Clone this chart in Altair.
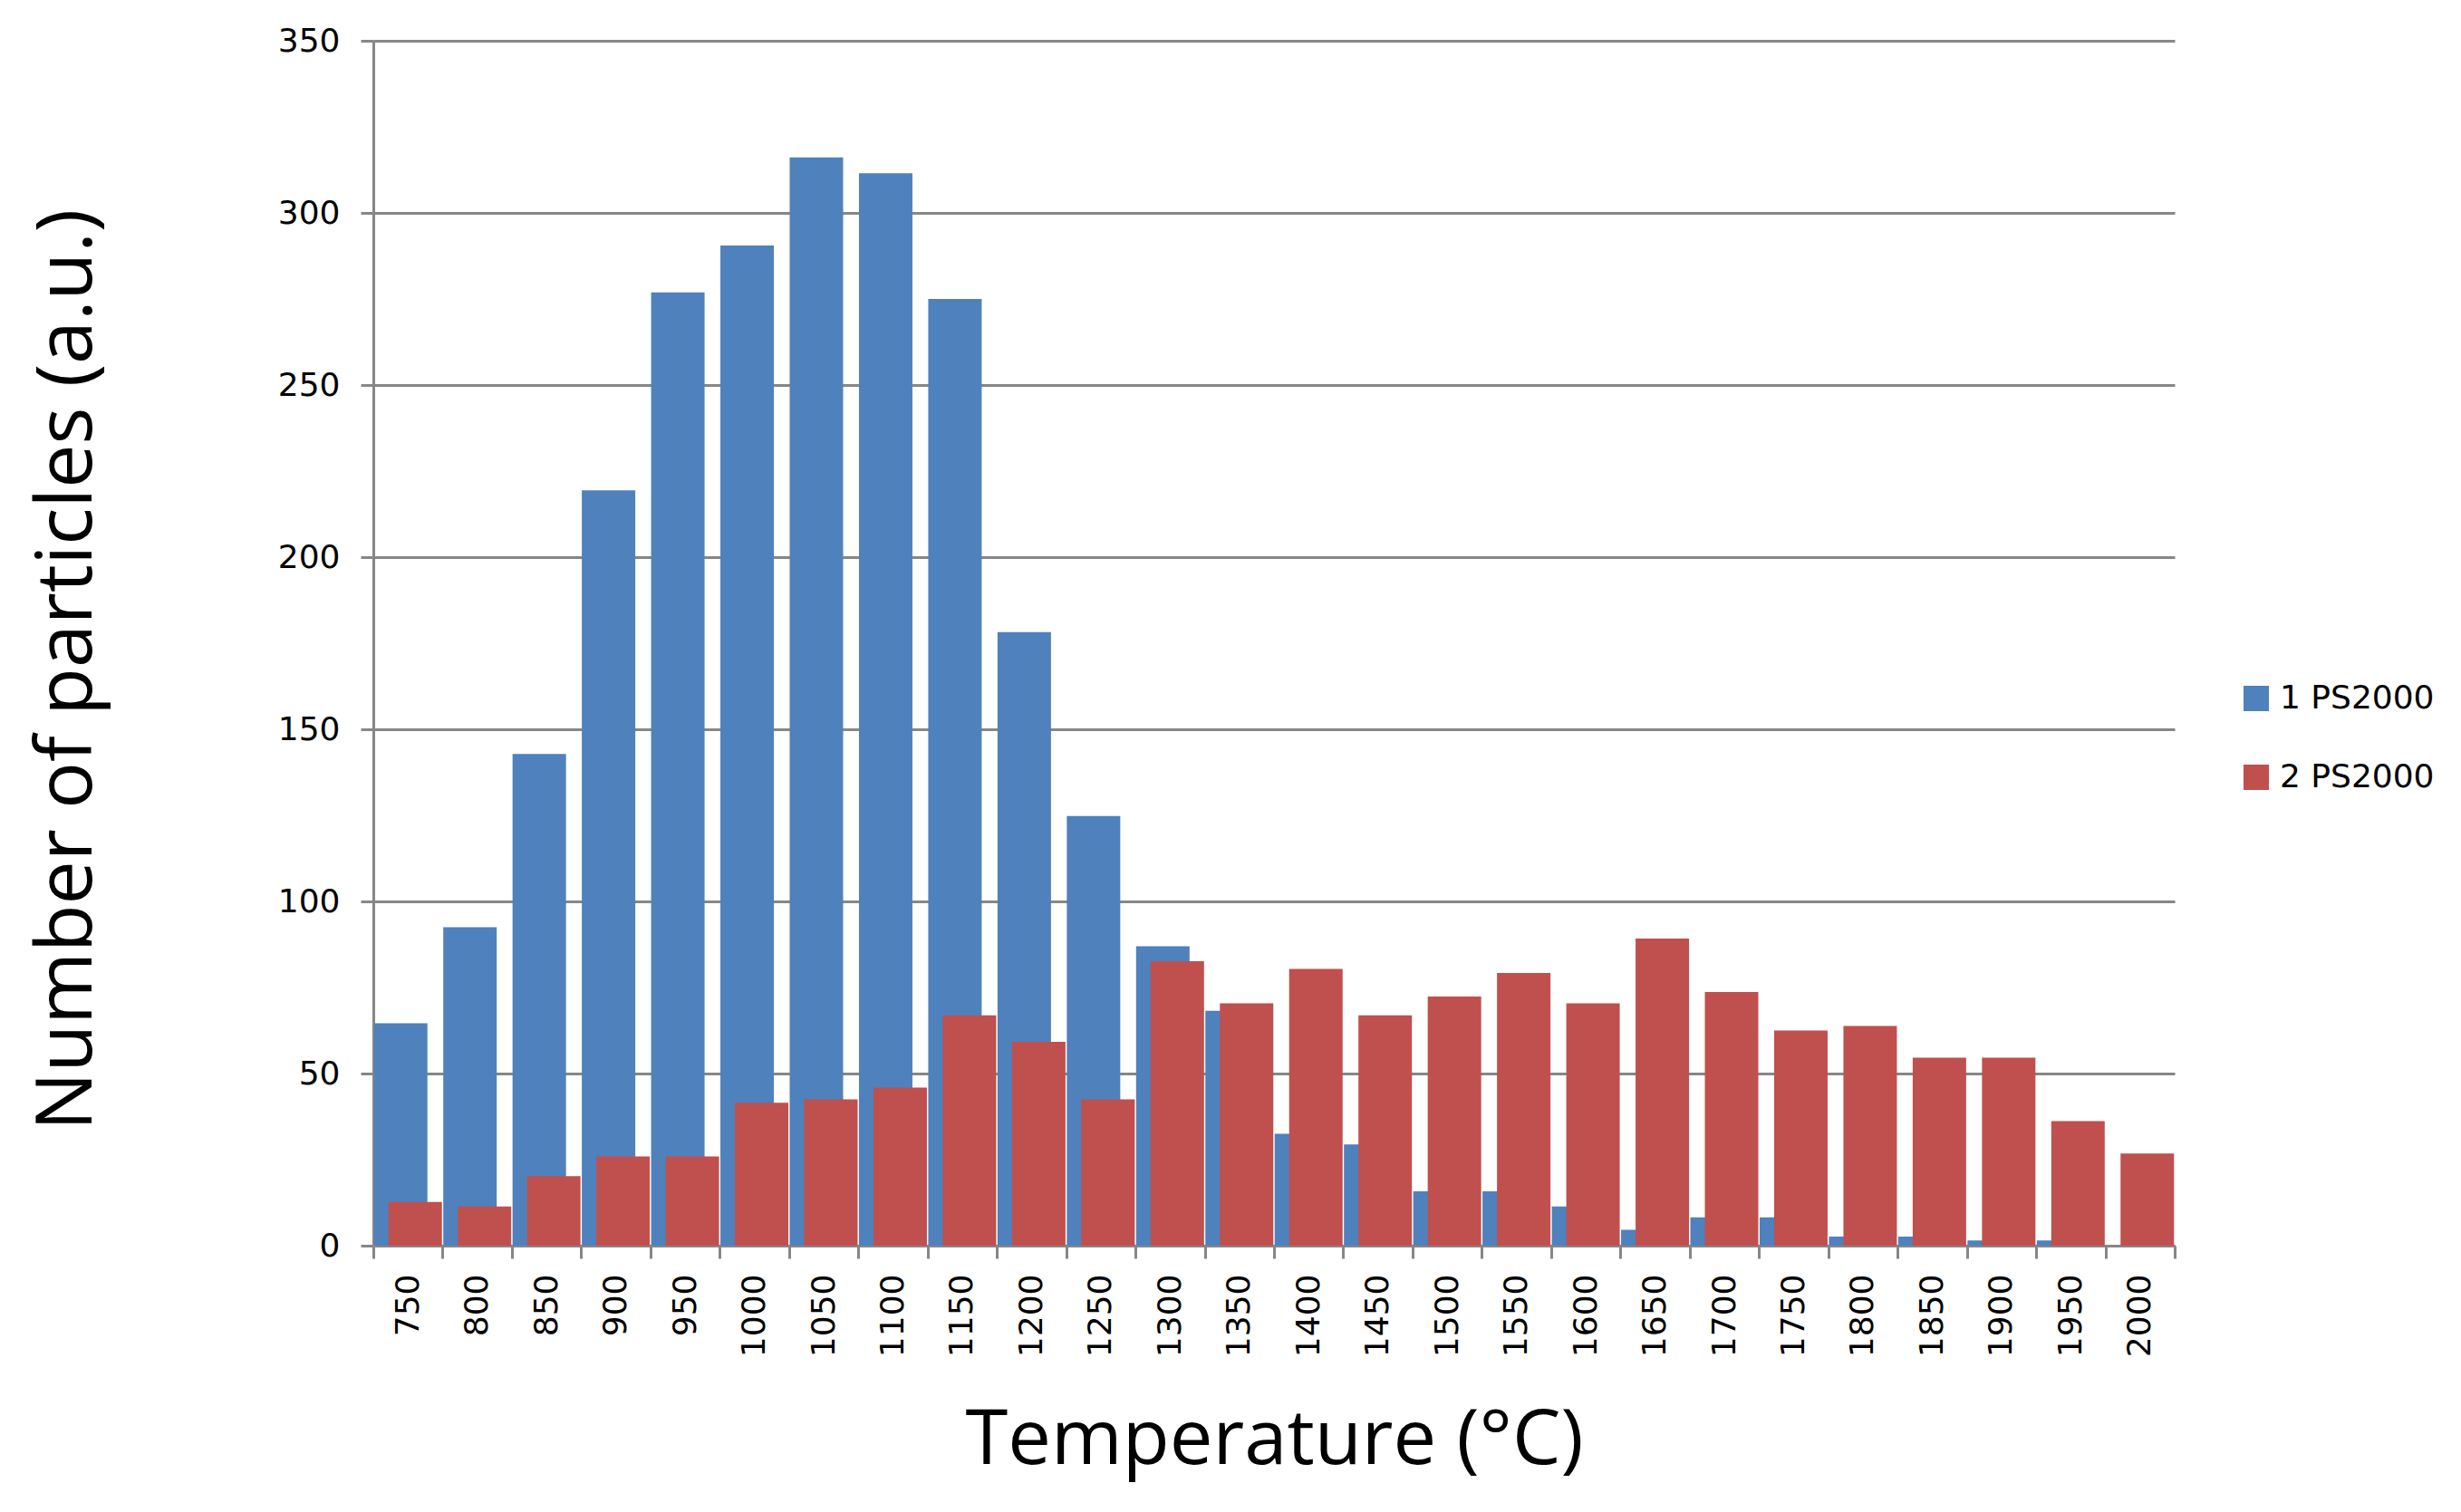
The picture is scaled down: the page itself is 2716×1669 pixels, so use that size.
import altair as alt
import pandas as pd

temps = [750, 800, 850, 900, 950, 1000, 1050, 1100, 1150, 1200, 1250, 1300, 1350,
         1400, 1450, 1500, 1550, 1600, 1650, 1700, 1750, 1800, 1850, 1900, 1950, 2000]
series_names = ["1 PS2000", "2 PS2000"]
ps1 = [64.6, 92.5, 142.8, 219.4, 276.9, 290.5, 316.1, 311.5, 275.0, 178.2, 124.8, 87.0, 68.2,
       32.5, 29.4, 15.8, 15.8, 11.4, 4.6, 8.2, 8.2, 2.6, 2.6, 1.5, 1.5, 0.0]
ps2 = [12.7, 11.4, 20.2, 25.9, 25.9, 41.5, 42.5, 45.9, 66.9, 59.2, 42.5, 82.6, 70.4,
       80.4, 66.9, 72.4, 79.2, 70.4, 89.2, 73.7, 62.5, 63.8, 54.6, 54.6, 36.2, 26.8]
y_ticks = [0, 50, 100, 150, 200, 250, 300, 350]
colors = ["#4F81BD", "#C0504D"]

df = pd.DataFrame({
    "temp": temps + temps,
    "series": [series_names[0]] * len(temps) + [series_names[1]] * len(temps),
    "count": ps1 + ps2,
})

grey = "#878787"

x_enc = alt.X(
    "temp:O",
    title="Temperature (°C)",
    scale=alt.Scale(paddingInner=0, paddingOuter=0),
    axis=alt.Axis(
        labelAngle=270,
        labelFont="DejaVu Sans",
        labelFontSize=36,
        labelColor="black",
        labelPadding=17,
        tickBand="extent",
        tickSize=14,
        tickWidth=3,
        tickColor=grey,
        domainColor=grey,
        domainWidth=3,
        grid=False,
        titleFont="Open Sans",
        titleFontSize=85,
        titleFontWeight="normal",
        titleColor="black",
        titleX=994,
        titleY=240,
        titleAlign="center",
        titleBaseline="alphabetic",
    ),
)

y_enc = alt.Y(
    "count:Q",
    title="Number of particles (a.u.)",
    scale=alt.Scale(domain=[0, 350], nice=False),
    axis=alt.Axis(
        values=y_ticks,
        labelFont="DejaVu Sans",
        labelFontSize=36,
        labelColor="black",
        labelPadding=23,
        tickSize=14,
        tickWidth=3,
        tickColor=grey,
        domainColor=grey,
        domainWidth=3,
        gridColor=grey,
        gridWidth=3,
        titleFont="Open Sans",
        titleFontSize=86,
        titleFontWeight="normal",
        titleColor="black",
        titleAngle=270,
        titleX=-312,
        titleY=694,
        titleAlign="center",
        titleBaseline="alphabetic",
    ),
)

color_enc = alt.Color(
    "series:N",
    scale=alt.Scale(domain=series_names, range=colors),
    legend=alt.Legend(
        title=None,
        orient="none",
        legendX=2060,
        legendY=708,
        padding=0,
        symbolType="square",
        symbolSize=784,
        symbolStrokeWidth=0,
        labelFont="DejaVu Sans",
        labelFontSize=36,
        labelColor="black",
        labelOffset=8,
        labelLimit=400,
        rowPadding=51,
    ),
)

base = alt.Chart(df).encode(x=x_enc, y=y_enc, color=color_enc)

blue = base.transform_filter(alt.datum.series == series_names[0]).mark_bar(width=59, xOffset=-8)
red = base.transform_filter(alt.datum.series == series_names[1]).mark_bar(width=59, xOffset=8)

chart = (
    alt.layer(blue, red)
    .properties(
        width=1988,
        height=1330,
        autosize=alt.AutoSizeParams(type="none"),
        padding={"left": 404, "top": 37, "right": 308, "bottom": 270},
        background="white",
    )
    .configure_view(stroke=None)
)

chart.save("out.html", embed_options={"renderer": "svg", "actions": False})
